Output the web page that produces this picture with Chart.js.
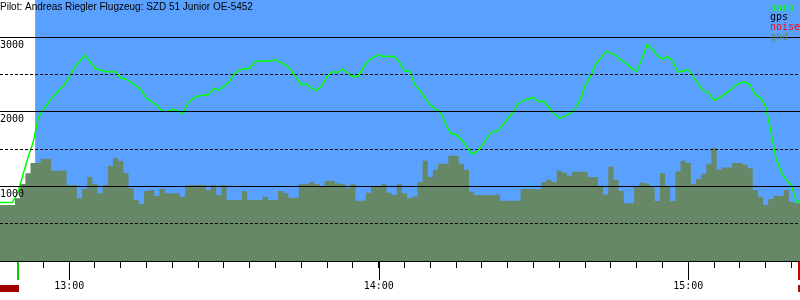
<!DOCTYPE html>
<html>
<head>
<meta charset="utf-8">
<script src="https://cdn.jsdelivr.net/npm/chart.js@4.4.1/dist/chart.umd.min.js"></script>
<style>
  html, body { margin: 0; padding: 0; background: #fff; }
</style>
</head>
<body>
<canvas id="flightChart" width="800" height="300"></canvas>
<script>
// Flight header + legend
const titleText = 'Pilot: Andreas Riegler Flugzeug: SZD 51 Junior OE-5452';
const legendNames = ['baro', 'gps', 'noise', 'gnd'];
const legendColors = ['#00ff00', '#000000', '#ff0000', '#668866'];

// Time axis: minutes after 12:00, one sample per minute starting at 12:46
const firstMinute = 46;
const viewStart = 46.59;
const viewEnd = 201.66;
const hourTicks = [60, 120, 180];
const airborneFrom = 53.4;
const takeoffAt = 50.15;
const landingAt = 201.45;
const redBars = [[46.59, 50.27], [201.3, 201.66]];

// Altitude axis
const altMax = 3500;
const labelledAlts = [1000, 2000, 3000];

// Barometric altitude (m)
const baro = [
    786, 786, 786, 786, 908, 1146, 1385, 1588, 1919, 2034,
    2128, 2213, 2290, 2358, 2462, 2588, 2673, 2764, 2678, 2588,
    2561, 2538, 2538, 2538, 2453, 2439, 2395, 2349, 2290, 2178,
    2142, 2088, 2011, 2003, 2034, 2020, 1976, 2115, 2178, 2214,
    2223, 2232, 2313, 2295, 2340, 2403, 2507, 2565, 2574, 2584,
    2673, 2682, 2678, 2686, 2696, 2660, 2628, 2561, 2455, 2365,
    2374, 2315, 2288, 2351, 2473, 2537, 2527, 2572, 2523, 2469,
    2483, 2595, 2685, 2734, 2761, 2739, 2748, 2739, 2667, 2547,
    2547, 2358, 2286, 2187, 2097, 2034, 1997, 1831, 1709, 1696,
    1628, 1538, 1435, 1466, 1547, 1651, 1737, 1741, 1818, 1908,
    1997, 2106, 2151, 2173, 2192, 2138, 2142, 2058, 1977, 1916,
    1939, 1976, 2034, 2151, 2349, 2470, 2633, 2723, 2808, 2791,
    2759, 2692, 2651, 2584, 2538, 2710, 2899, 2845, 2754, 2710,
    2741, 2678, 2530, 2552, 2565, 2470, 2367, 2281, 2259, 2155,
    2187, 2237, 2281, 2349, 2389, 2399, 2358, 2227, 2192, 2070,
    1741, 1381, 1192, 1088, 1016, 791, 791
];

// Ground elevation under the track (m)
const gnd = [
    750, 750, 750, 750, 840, 1034, 1178, 1314, 1318, 1372,
    1372, 1210, 1210, 1210, 1020, 1020, 840, 966, 1128, 1034,
    908, 1020, 1277, 1381, 1336, 1178, 975, 818, 763, 939,
    953, 872, 970, 908, 908, 908, 862, 1016, 1020, 1020,
    1020, 953, 1020, 885, 1020, 818, 818, 818, 939, 818,
    818, 818, 862, 818, 818, 939, 908, 849, 849, 1034,
    1034, 1061, 1034, 1000, 1074, 1074, 1040, 1034, 980, 1034,
    808, 808, 916, 997, 997, 1034, 916, 888, 1034, 908,
    840, 862, 1061, 1345, 1128, 1223, 1304, 1304, 1412, 1412,
    1304, 1223, 930, 885, 885, 885, 885, 894, 808, 808,
    808, 808, 966, 966, 966, 966, 1061, 1088, 1061, 1214,
    1182, 1142, 1196, 1196, 1196, 1128, 1128, 1000, 893, 1264,
    1088, 939, 773, 774, 997, 1050, 1040, 988, 804, 1178,
    1000, 804, 1200, 1345, 1313, 1034, 1101, 1169, 1304, 1516,
    1223, 1254, 1254, 1313, 1313, 1290, 1245, 953, 862, 750,
    831, 876, 872, 953, 795, 773, 768
];

const times = baro.map((_, i) => firstMinute + i);
const toPoints = vals => vals.map((v, i) => ({ x: times[i], y: v }));

const monoFont = { family: 'DejaVu Sans Mono', size: 10 };
const clear = 'rgba(0,0,0,0)';

// background band, header texts and time markers
const flightDecor = {
    id: 'flightDecor',
    beforeDraw(chart) {
        const { ctx, chartArea, scales } = chart;
        const x0 = scales.x.getPixelForValue(airborneFrom);
        ctx.save();
        ctx.fillStyle = 'rgb(90,160,255)';
        ctx.fillRect(x0, chartArea.top, chartArea.right - x0, chartArea.bottom - chartArea.top);
        ctx.restore();
    },
    afterDraw(chart) {
        const { ctx, chartArea, scales } = chart;
        const xs = scales.x;
        const bottom = chartArea.bottom;
        ctx.save();

        // long ticks at full hours
        ctx.strokeStyle = '#000';
        ctx.lineWidth = 1;
        hourTicks.forEach(h => {
            const px = Math.round(xs.getPixelForValue(h)) + 0.5;
            ctx.beginPath();
            ctx.moveTo(px, bottom);
            ctx.lineTo(px, bottom + 19);
            ctx.stroke();
        });

        // takeoff / landing markers
        const tx = xs.getPixelForValue(takeoffAt);
        ctx.fillStyle = '#00cc00';
        ctx.fillRect(Math.round(tx) - 1, bottom + 1, 2, 18);
        const lx = xs.getPixelForValue(landingAt);
        ctx.fillStyle = '#cc0000';
        ctx.fillRect(Math.round(lx) - 1, bottom + 1, 2, 18);

        ctx.fillStyle = '#a00000';
        redBars.forEach(([a, b]) => {
            const pa = xs.getPixelForValue(a);
            const pb = xs.getPixelForValue(b);
            ctx.fillRect(pa, bottom + 24, pb - pa, 7);
        });

        // header
        ctx.fillStyle = '#000';
        ctx.font = '10px "Liberation Sans", Arial, sans-serif';
        ctx.textBaseline = 'alphabetic';
        ctx.textAlign = 'left';
        ctx.fillText(titleText, 0, 10);

        // legend, top right
        ctx.font = '10px "DejaVu Sans Mono", monospace';
        legendNames.forEach((name, i) => {
            ctx.fillStyle = legendColors[i];
            ctx.fillText(name, 770, 10.5 + i * 9.7);
        });
        ctx.restore();
    }
};

new Chart(document.getElementById('flightChart'), {
    type: 'line',
    data: {
        datasets: [
            {
                label: 'gnd',
                data: toPoints(gnd),
                stepped: 'middle',
                fill: 'origin',
                backgroundColor: '#668866',
                borderWidth: 0,
                pointRadius: 0,
                order: 2
            },
            {
                label: 'baro',
                data: toPoints(baro),
                borderColor: '#00ff00',
                borderWidth: 1.5,
                pointRadius: 0,
                fill: false,
                tension: 0,
                order: 1
            }
        ]
    },
    options: {
        responsive: false,
        animation: false,
        layout: { padding: 0 },
        plugins: {
            legend: { display: false },
            tooltip: { enabled: false },
            title: { display: false }
        },
        scales: {
            x: {
                type: 'linear',
                min: viewStart,
                max: viewEnd,
                ticks: {
                    stepSize: 5,
                    includeBounds: false,
                    autoSkip: false,
                    maxRotation: 0,
                    padding: 12,
                    color: '#000',
                    font: monoFont,
                    callback: v => hourTicks.includes(v) ? (12 + v / 60) + ':00' : ''
                },
                grid: {
                    drawOnChartArea: false,
                    drawTicks: true,
                    tickLength: 7,
                    tickColor: '#000'
                },
                border: { display: true, color: '#000', width: 1 },
                afterFit: s => { s.height = 39; s.paddingLeft = 0; s.paddingRight = 0; }
            },
            y: {
                type: 'linear',
                position: 'left',
                min: 0,
                max: altMax,
                ticks: {
                    stepSize: 500,
                    includeBounds: false,
                    autoSkip: false,
                    mirror: true,
                    padding: 0,
                    labelOffset: 8,
                    color: '#000',
                    font: monoFont,
                    z: 2,
                    callback: v => labelledAlts.includes(v) ? String(v) : ''
                },
                grid: {
                    color: ctx => (ctx.tick.value % 1000 === 0) ? '#000' : clear,
                    lineWidth: 1,
                    drawTicks: false,
                    z: 1
                },
                border: { display: false },
                afterFit: s => { s.width = 0; s.paddingTop = 0; s.paddingBottom = 0; }
            },
            yHalf: {
                type: 'linear',
                position: 'left',
                min: 0,
                max: altMax,
                ticks: { display: false, stepSize: 500, includeBounds: false },
                grid: {
                    color: ctx => (ctx.tick.value % 1000 === 0 || ctx.tick.value >= altMax) ? clear : '#000',
                    lineWidth: 1,
                    drawTicks: false,
                    z: 1
                },
                border: { display: false, dash: [3, 2] },
                afterFit: s => { s.width = 0; s.paddingTop = 0; s.paddingBottom = 0; }
            }
        }
    },
    plugins: [flightDecor]
});
</script>
</body>
</html>
